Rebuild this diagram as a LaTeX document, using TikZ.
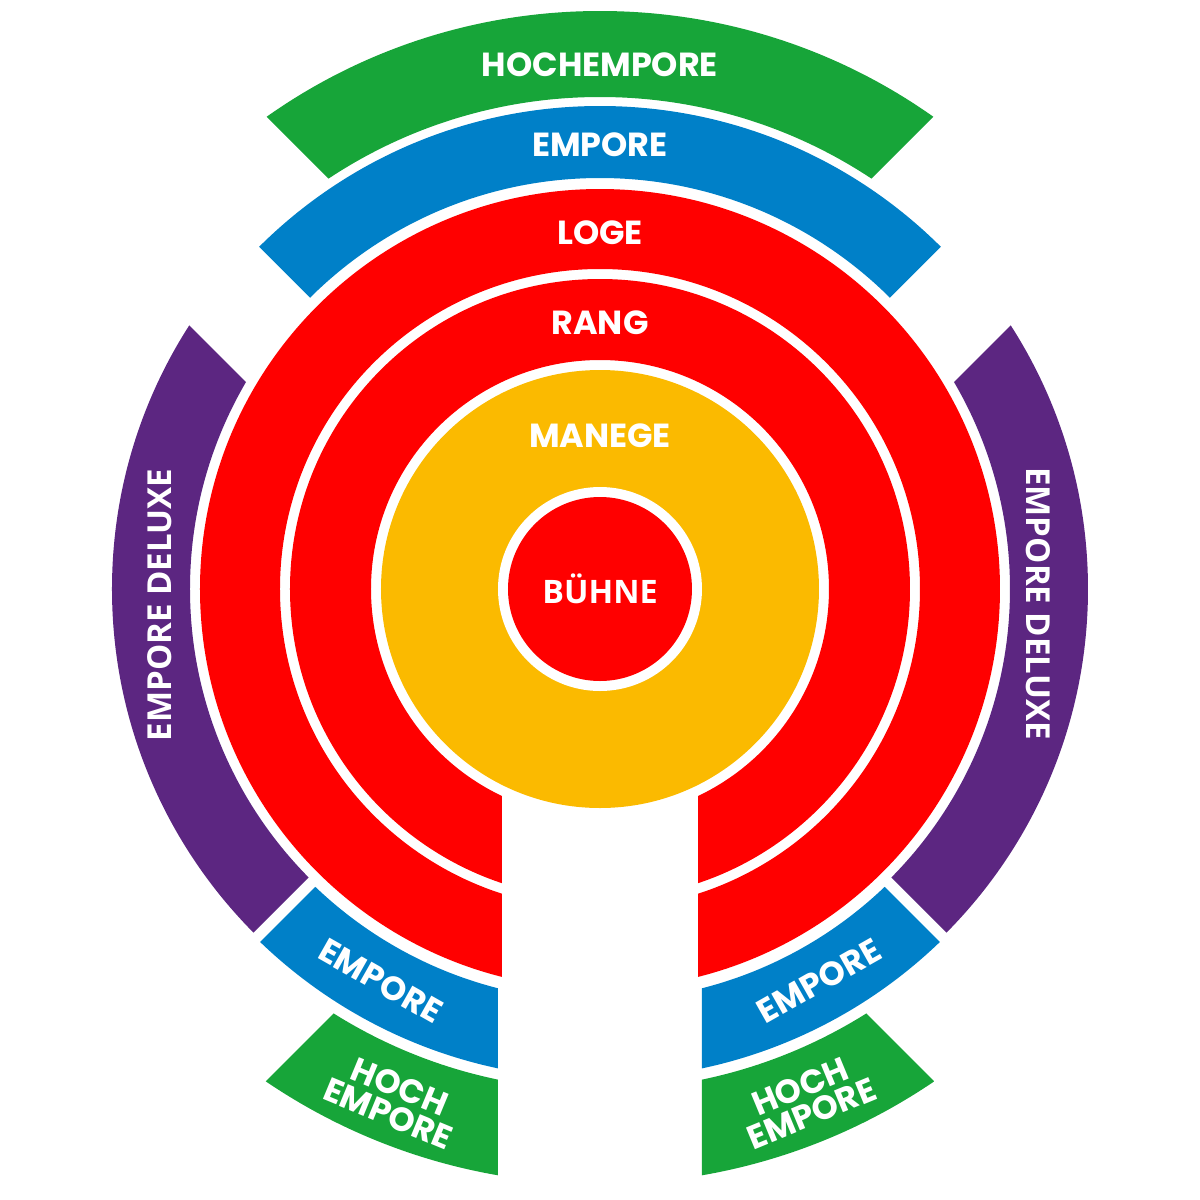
\documentclass[tikz,border=0pt]{standalone}
\usepackage{fontspec}
\newfontfamily\popfont{Poppins}
\newfontfamily\osfont{Open Sans}
\definecolor{cgreen}{HTML}{17A539}
\definecolor{cblue}{HTML}{0080C8}
\definecolor{cred}{HTML}{FF0000}
\definecolor{cyellow}{HTML}{FBBA00}
\definecolor{cpurple}{HTML}{5C2681}
\tikzset{
  lbl/.style={text=white, inner sep=0pt, font=\popfont\bfseries\fontsize{9.5}{9}\selectfont},
  lblos/.style={text=white, inner sep=0pt, font=\osfont\bfseries\fontsize{9.4}{10}\selectfont},
  lblbu/.style={text=white, inner sep=0pt, font=\osfont\bfseries\fontsize{9.2}{10}\selectfont},
  lbltwo/.style={text=white, inner sep=0pt, align=center, font=\popfont\bfseries\fontsize{9.5}{8.4}\selectfont}
}
\begin{document}
\begin{tikzpicture}
\useasboundingbox (-6,-6.11) rectangle (6,5.89);
% red rings
\fill[cred, even odd rule] (0,0) circle (4.00) (0,0) circle (3.20);
\fill[cred, even odd rule] (0,0) circle (3.10) (0,0) circle (2.29);
\fill[white] (-0.98,-6.3) rectangle (0.98,0);
% manege and buehne
\fill[cyellow] (0,0) circle (2.19);
\fill[white] (0,0) circle (1.02);
\fill[cred] (0,0) circle (0.92);
% top empore
\begin{scope}
  \clip (0,0.015) -- (7,7.015) -- (-7,7.015) -- cycle;
  \fill[cblue, even odd rule] (0,0) circle (4.83) (0,0) circle (4.11);
\end{scope}
% top hochempore
\begin{scope}
  \clip (0,1.39) -- (8,9.39) -- (-8,9.39) -- cycle;
  \fill[cgreen, even odd rule] (0,0) circle (5.78) (0,0) circle (4.92);
\end{scope}
% empore deluxe left / right
\begin{scope}
  \clip (-0.75,-0.72) -- (-7.75,6.28) -- (-7.75,-7.72) -- cycle;
  \fill[cpurple, even odd rule] (0,0) circle (4.88) (0,0) circle (4.10);
\end{scope}
\begin{scope}
  \clip (0.75,-0.72) -- (7.75,6.28) -- (7.75,-7.72) -- cycle;
  \fill[cpurple, even odd rule] (0,0) circle (4.88) (0,0) circle (4.10);
\end{scope}
% bottom empore
\begin{scope}
  \clip (-1.02,-1.15) -- (-7,-7.13) -- (-1.02,-7.13) -- cycle;
  \fill[cblue, even odd rule] (0,0) circle (4.90) (0,0) circle (4.12);
\end{scope}
\begin{scope}
  \clip (1.02,-1.15) -- (7,-7.13) -- (1.02,-7.13) -- cycle;
  \fill[cblue, even odd rule] (0,0) circle (4.90) (0,0) circle (4.12);
\end{scope}
% bottom hochempore
\begin{scope}
  \clip (-1.02,-2.60) -- (-8,-9.58) -- (-1.02,-9.58) -- cycle;
  \fill[cgreen, even odd rule] (0,0) circle (5.95) (0,0) circle (5.01);
\end{scope}
\begin{scope}
  \clip (1.02,-2.60) -- (8,-9.58) -- (1.02,-9.58) -- cycle;
  \fill[cgreen, even odd rule] (0,0) circle (5.95) (0,0) circle (5.01);
\end{scope}
% labels
\node[lbl] (hochempore) at (0,5.24) {HOCHEMPORE};
\node[lbl] (empore) at (0,4.44) {EMPORE};
\node[lbl] (loge) at (0,3.56) {LOGE};
\node[lbl] (rang) at (0,2.66) {RANG};
\node[lbl] (manege) at (0,1.53) {MANEGE};
\node[lblbu, anchor=base] (buehne) at (0,-0.14) {BÜHNE};
\node[lblos, rotate=90] (deluxeL) at (-4.40,-0.16) {EMPORE DELUXE};
\node[lblos, rotate=-90] (deluxeR) at (4.385,-0.145) {EMPORE DELUXE};
\node[lbl, rotate=-29.5] (emporeBL) at (-2.19,-3.92) {EMPORE};
\node[lbl, rotate=29.5] (emporeBR) at (2.19,-3.92) {EMPORE};
\node[lbltwo, rotate=-22.5] (hochBL) at (-2.06,-5.11) {HOCH\\EMPORE};
\node[lbltwo, rotate=22.5] (hochBR) at (2.06,-5.11) {HOCH\\EMPORE};
\end{tikzpicture}
\end{document}
